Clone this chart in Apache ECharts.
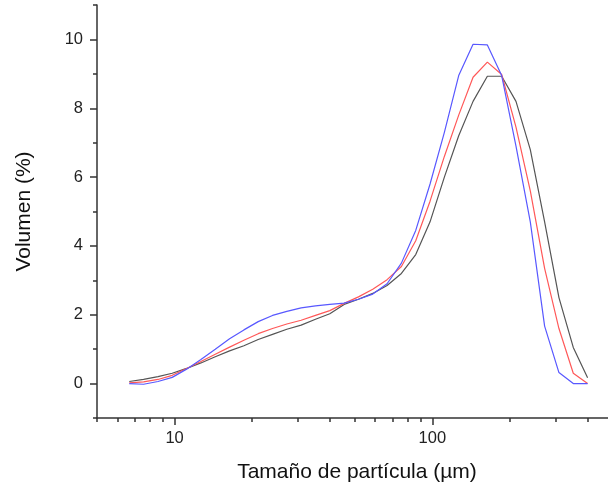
<!DOCTYPE html>
<html><head><meta charset="utf-8">
<script src="https://cdn.jsdelivr.net/npm/echarts@6/dist/echarts.min.js"></script>
<style>html,body{margin:0;padding:0;background:#fff}#c{width:608px;height:490px}</style>
</head><body><div id="c"></div>
<script>
const sizes = [6.67, 7.58, 8.62, 9.79, 11.13, 12.65, 14.38, 16.34, 18.57, 21.10, 23.98, 27.25, 30.97, 35.20, 40.0, 45.46, 51.66, 58.71, 66.72, 75.83, 86.18, 97.94, 111.3, 126.5, 143.8, 163.4, 185.7, 211.0, 239.8, 272.5, 309.7, 352.0, 400];
const blackVals = [0.06,0.12,0.2,0.3,0.44,0.6,0.78,0.95,1.1,1.28,1.43,1.58,1.7,1.87,2.03,2.3,2.45,2.62,2.85,3.2,3.75,4.7,6.0,7.2,8.2,8.93,8.93,8.2,6.8,4.7,2.5,1.05,0.17];
const redVals = [0.02,0.05,0.12,0.24,0.44,0.64,0.85,1.06,1.26,1.45,1.6,1.73,1.84,1.98,2.12,2.33,2.52,2.74,3.02,3.4,4.15,5.3,6.6,7.8,8.9,9.34,8.98,7.45,5.6,3.35,1.6,0.3,0.0];
const blueVals = [0.0,-0.02,0.06,0.18,0.42,0.7,1.0,1.3,1.56,1.8,1.98,2.1,2.2,2.26,2.3,2.34,2.45,2.6,2.9,3.5,4.45,5.8,7.3,8.95,9.86,9.84,8.95,6.9,4.7,1.67,0.32,0.0,0.0];
const xMajorTicks = [10, 100];
const xMinorTicks = [5,6,7,8,9,20,30,40,50,60,70,80,90,200,300,400];
const yMajorTicks = [0,2,4,6,8,10];
const yMinorTicks = [-1,1,3,5,7,9,11];

const zip = v => sizes.map((s,i)=>[s,v[i]]);
const chart = echarts.init(document.getElementById('c'));
const axisCol = '#333';
const font = 'Liberation Sans, Arial, sans-serif';
chart.setOption({
  animation:false,
  grid:{left:97,right:0,top:5,bottom:72},
  xAxis:[{
    type:'log', logBase:10, min:5, max:480,
    name:'Tamaño de partícula (µm)', nameLocation:'middle', nameGap:44,
    nameTextStyle:{fontFamily:font,fontSize:21,color:'#111',padding:[0,0,0,9]},
    axisLine:{onZero:false,lineStyle:{color:axisCol,width:1.5}},
    axisTick:{length:7,inside:false,lineStyle:{color:axisCol,width:1.5},customValues:xMajorTicks},
    axisLabel:{fontFamily:font,fontSize:16.5,color:'#222',margin:12,customValues:xMajorTicks},
    splitLine:{show:false}, minorTick:{show:false}
  },{
    type:'log', logBase:10, min:5, max:480, position:'bottom',
    axisLine:{show:false,onZero:false},
    axisTick:{length:4,lineStyle:{color:axisCol,width:1.5},customValues:xMinorTicks},
    axisLabel:{show:false}, splitLine:{show:false}
  }],
  yAxis:[{
    type:'value', min:-1, max:11,
    name:'Volumen (%)', nameLocation:'middle', nameGap:62, nameRotate:90,
    nameTextStyle:{fontFamily:font,fontSize:21,color:'#111'},
    axisLine:{show:true,onZero:false,lineStyle:{color:axisCol,width:1.5}},
    axisTick:{show:true,length:7,lineStyle:{color:axisCol,width:1.5},customValues:yMajorTicks},
    axisLabel:{fontFamily:font,fontSize:16.5,color:'#222',margin:14,customValues:yMajorTicks},
    splitLine:{show:false}
  },{
    type:'value', min:-1, max:11, position:'left',
    axisLine:{show:false,onZero:false},
    axisTick:{show:true,length:4,lineStyle:{color:axisCol,width:1.5},customValues:yMinorTicks},
    axisLabel:{show:false}, splitLine:{show:false}
  }],
  series:[
    {type:'line',name:'black',data:zip(blackVals),showSymbol:false,lineStyle:{color:'#555',width:1.2},itemStyle:{color:'#555'}},
    {type:'line',name:'red',data:zip(redVals),showSymbol:false,lineStyle:{color:'#ff5858',width:1.2},itemStyle:{color:'#ff5858'}},
    {type:'line',name:'blue',data:zip(blueVals),showSymbol:false,lineStyle:{color:'#5858ff',width:1.2},itemStyle:{color:'#5858ff'}}
  ]
});
</script></body></html>
